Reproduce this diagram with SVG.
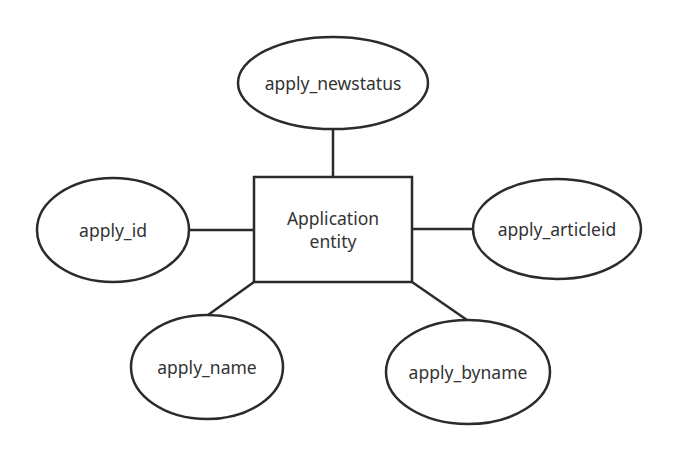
<svg xmlns="http://www.w3.org/2000/svg" width="678" height="462" viewBox="0 0 678 462">
<style>
.s{fill:#fff;stroke:#2b2b2b;stroke-width:2.5}
.t{font-family:"Noto Sans","Open Sans",sans-serif;font-size:17.5px;fill:#333;text-anchor:middle;dominant-baseline:central}
.c line{stroke:#2b2b2b;stroke-width:2.5}
</style>
<rect width="678" height="462" fill="#fff"/>
<g class="c">
<line x1="333" y1="129" x2="333" y2="177"/>
<line x1="189" y1="230" x2="254" y2="230"/>
<line x1="412" y1="229" x2="474" y2="229"/>
<line x1="254" y1="282" x2="208" y2="315"/>
<line x1="412" y1="282" x2="467" y2="320"/>
</g>
<g id="entity"><rect class="s" x="254" y="177" width="158" height="105"/><text class="t" x="333" y="218">Application</text><text class="t" x="333" y="241">entity</text></g>
<g id="newstatus"><ellipse class="s" cx="333" cy="83" rx="95" ry="46"/><text class="t" x="333" y="83">apply_newstatus</text></g>
<g id="id"><ellipse class="s" cx="113" cy="230" rx="76" ry="52"/><text class="t" x="113" y="230">apply_id</text></g>
<g id="articleid"><ellipse class="s" cx="557" cy="229" rx="84" ry="50"/><text class="t" x="557" y="229">apply_articleid</text></g>
<g id="name"><ellipse class="s" cx="207" cy="367" rx="76" ry="52"/><text class="t" x="207" y="367">apply_name</text></g>
<g id="byname"><ellipse class="s" cx="468" cy="372" rx="82" ry="52"/><text class="t" x="468" y="372">apply_byname</text></g>
</svg>
